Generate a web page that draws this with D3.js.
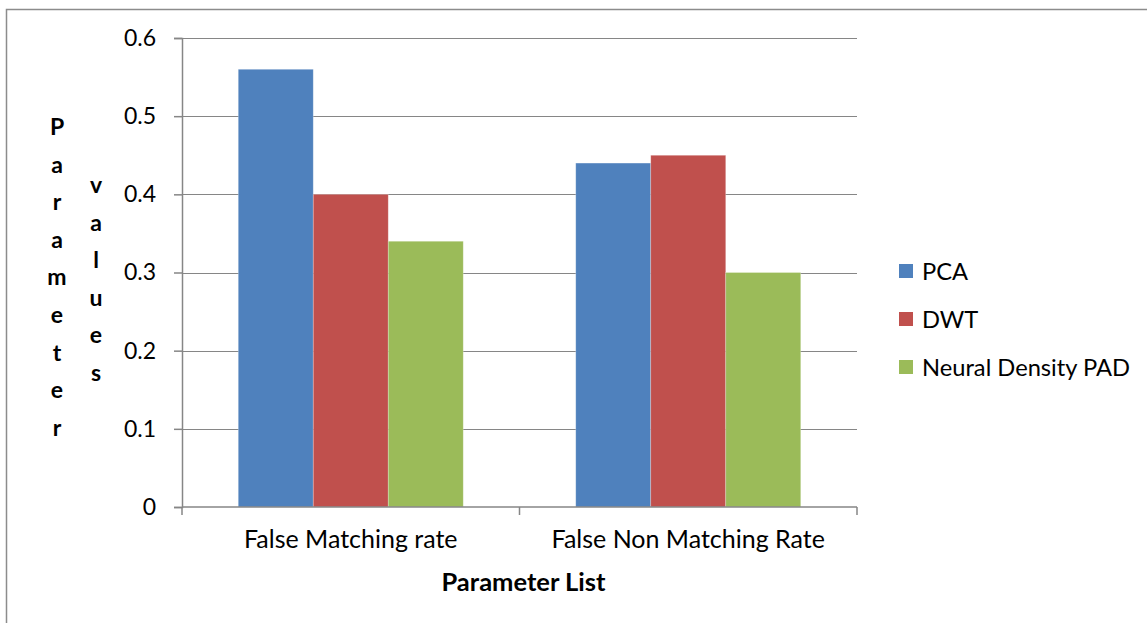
<!DOCTYPE html>
<html>
<head>
<meta charset="utf-8">
<script src="https://cdn.jsdelivr.net/npm/d3@7"></script>
<style>
  body { margin: 0; background: #fff; }
  text { font-family: Lato, "Open Sans", sans-serif; fill: #000; }
</style>
</head>
<body>
<div id="chart"></div>
<script>
// Data
const categories = ["False Matching rate", "False Non Matching Rate"];
const seriesNames = ["PCA", "DWT", "Neural Density PAD"];
const pcaValues = [0.56, 0.44];
const dwtValues = [0.40, 0.45];
const ndpadValues = [0.34, 0.30];
const yTicks = [0, 0.1, 0.2, 0.3, 0.4, 0.5, 0.6];
const colors = ["#4F81BD", "#C0504D", "#9BBB59"];

const width = 1147;
const height = 623;
const margin = { top: 38, right: 290, bottom: 116, left: 182 };

const svg = d3.select("#chart")
    .append("svg")
    .attr("width", width)
    .attr("height", height);

// outer chart frame (only top and left edges are visible)
svg.append("path")
    .attr("d", `M6.5,${height + 5} V9.5 H${width + 5}`)
    .attr("fill", "none")
    .attr("stroke", "#8c8c8c")
    .attr("stroke-width", 1.5);

const plotW = width - margin.left - margin.right;
const plotH = height - margin.top - margin.bottom;

const g = svg.append("g")
    .attr("transform", `translate(${margin.left},${margin.top})`);

const x0 = d3.scaleBand()
    .domain(categories)
    .range([0, plotW]);

const x1 = d3.scaleBand()
    .domain(seriesNames)
    .range([0, x0.bandwidth()])
    .paddingOuter(0.75);

const y = d3.scaleLinear()
    .domain([0, 0.6])
    .range([plotH, 0]);

const seriesValues = [pcaValues, dwtValues, ndpadValues];

// gridlines
g.selectAll(".grid")
    .data(yTicks.filter(d => d > 0))
    .enter()
    .append("line")
    .attr("class", "grid")
    .attr("x1", 0)
    .attr("x2", plotW)
    .attr("y1", d => Math.round(y(d)) + 0.5)
    .attr("y2", d => Math.round(y(d)) + 0.5)
    .attr("stroke", "#868686")
    .attr("stroke-width", 1);

// bars
categories.forEach((cat, ci) => {
    seriesNames.forEach((s, si) => {
        const v = seriesValues[si][ci];
        g.append("rect")
            .attr("x", x0(cat) + x1(s))
            .attr("y", y(v))
            .attr("width", x1.bandwidth())
            .attr("height", plotH - y(v))
            .attr("fill", colors[si])
            .attr("stroke", "#ffffff")
            .attr("stroke-opacity", 0.35)
            .attr("stroke-width", 0.75);
    });
});

// y axis
const yAxis = g.append("g")
    .call(d3.axisLeft(y).tickValues(yTicks).tickSize(8).tickPadding(18)
        .tickFormat(d => d === 0 ? "0" : d3.format(".1f")(d)));
yAxis.select(".domain").attr("stroke", "#868686").attr("stroke-width", 1.5);
yAxis.selectAll(".tick line").attr("stroke", "#868686").attr("stroke-width", 1.5);
yAxis.selectAll(".tick text")
    .style("font-size", "23px")
    .attr("fill", "#000");

// x axis: ticks at category boundaries
const xAxisG = g.append("g").attr("transform", `translate(0,${plotH})`);
xAxisG.append("line")
    .attr("x1", 0).attr("x2", plotW)
    .attr("y1", 0).attr("y2", 0)
    .attr("stroke", "#868686").attr("stroke-width", 1.5);
const boundaries = categories.map(c => x0(c)).concat([plotW]);
xAxisG.selectAll(".xtick")
    .data(boundaries)
    .enter()
    .append("line")
    .attr("x1", d => d).attr("x2", d => d)
    .attr("y1", 0).attr("y2", 8)
    .attr("stroke", "#868686").attr("stroke-width", 1.5);
xAxisG.selectAll(".xlabel")
    .data(categories)
    .enter()
    .append("text")
    .attr("x", d => x0(d) + x0.bandwidth() / 2)
    .attr("y", 41)
    .attr("text-anchor", "middle")
    .style("font-size", "25px")
    .text(d => d);

// x axis title
svg.append("text")
    .attr("x", margin.left + plotW / 2 + 4)
    .attr("y", 591)
    .attr("text-anchor", "middle")
    .style("font-size", "25.5px")
    .style("font-weight", "bold")
    .text("Parameter List");

// y axis title, letters stacked in two columns
const titleWords = ["Parameter", "values"];
const colX = [57, 96];
const colY0 = [127, 185];
const step = 37.6;
titleWords.forEach((w, wi) => {
    svg.selectAll(".yt" + wi)
        .data(w.split(""))
        .enter()
        .append("text")
        .attr("x", colX[wi])
        .attr("y", (d, i) => colY0[wi] + i * step)
        .attr("dy", "0.35em")
        .attr("text-anchor", "middle")
        .style("font-size", "23px")
        .style("font-weight", "bold")
        .text(d => d);
});

// legend
const legend = svg.append("g").attr("transform", "translate(899,271)");
seriesNames.forEach((s, i) => {
    const row = legend.append("g").attr("transform", `translate(0,${i * 48})`);
    row.append("rect")
        .attr("x", 0).attr("y", -7)
        .attr("width", 14).attr("height", 14)
        .attr("fill", colors[i]);
    row.append("text")
        .attr("x", 23)
        .attr("y", 0)
        .attr("dy", "0.36em")
        .style("font-size", "23.7px")
        .text(s);
});
</script>
</body>
</html>
